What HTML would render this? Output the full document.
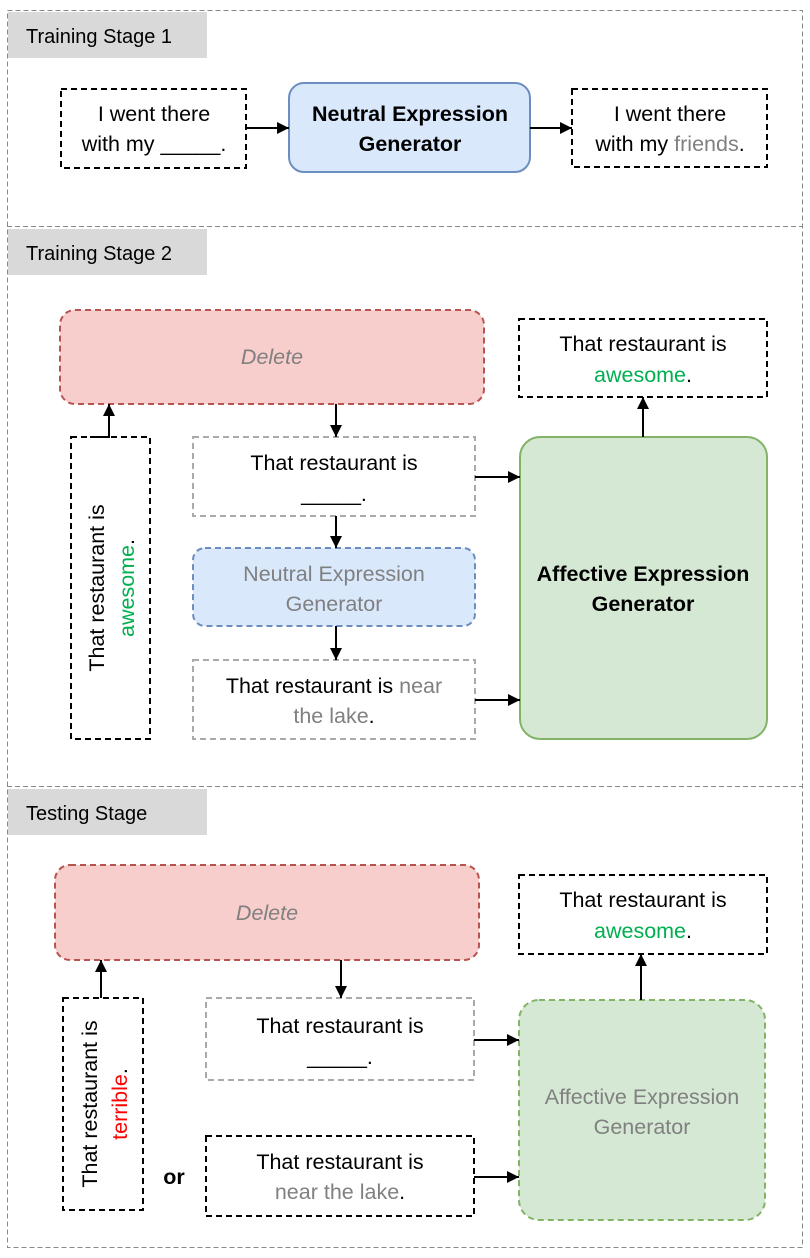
<!DOCTYPE html>
<html><head><meta charset="utf-8"><style>
html,body{margin:0;padding:0;background:#fff}
svg{display:block}
text{font-family:"Liberation Sans",sans-serif;font-size:21.5px}
.t{font-size:20px}
</style></head><body>
<svg width="810" height="1258" viewBox="0 0 810 1258" xmlns="http://www.w3.org/2000/svg">
<defs>
<marker id="a" markerWidth="14" markerHeight="14" refX="12" refY="6" orient="auto" markerUnits="userSpaceOnUse"><path d="M0,0 L12,6 L0,12 z" fill="#000"/></marker>
</defs>
<rect x="7.5" y="10.5" width="795" height="1237" fill="none" stroke="#888" stroke-dasharray="5,3"/>
<line x1="7" y1="226.5" x2="803" y2="226.5" stroke="#888" stroke-dasharray="5,3"/>
<line x1="7" y1="786.5" x2="803" y2="786.5" stroke="#888" stroke-dasharray="5,3"/>
<rect x="8" y="12" width="199" height="46" fill="#d9d9d9"/>
<rect x="8" y="229" width="199" height="46" fill="#d9d9d9"/>
<rect x="8" y="789" width="199" height="46" fill="#d9d9d9"/>
<text class="t" x="26" y="43">Training Stage 1</text>
<text class="t" x="26" y="260">Training Stage 2</text>
<text class="t" x="26" y="820">Testing Stage</text>

<g fill="none" stroke-width="2" stroke-dasharray="6,4">
<rect x="61" y="89" width="185" height="79" stroke="#000"/>
<rect x="572" y="89" width="195" height="78" stroke="#000"/>
<rect x="519" y="319" width="248" height="78" stroke="#000"/>
<rect x="71" y="437" width="79" height="302" stroke="#000"/>
<rect x="193" y="437" width="282" height="79" stroke="#aaa"/>
<rect x="193" y="660" width="282" height="79" stroke="#aaa"/>
<rect x="519" y="875" width="248" height="79" stroke="#000"/>
<rect x="63" y="998" width="80" height="212" stroke="#000"/>
<rect x="206" y="998" width="268" height="82" stroke="#aaa"/>
<rect x="206" y="1136" width="268" height="80" stroke="#000"/>
</g>
<rect x="289" y="83" width="241" height="89" rx="15" fill="#dae8fc" stroke="#6c8ebf" stroke-width="2"/>
<rect x="60" y="310" width="424" height="94" rx="15" fill="#f8cecc" stroke="#b85450" stroke-width="2" stroke-dasharray="6,4"/>
<rect x="193" y="548" width="282" height="78" rx="12" fill="#dae8fc" stroke="#6c8ebf" stroke-width="2" stroke-dasharray="6,4"/>
<rect x="520" y="437" width="247" height="302" rx="20" fill="#d5e8d4" stroke="#82b366" stroke-width="2"/>
<rect x="55" y="865" width="424" height="95" rx="15" fill="#f8cecc" stroke="#b85450" stroke-width="2" stroke-dasharray="6,4"/>
<rect x="519" y="1000" width="246" height="220" rx="20" fill="#d5e8d4" stroke="#82b366" stroke-width="2" stroke-dasharray="6,4"/>

<g stroke="#000" stroke-width="2" marker-end="url(#a)">
<line x1="246" y1="128" x2="289" y2="128"/>
<line x1="530" y1="128" x2="572" y2="128"/>
<line x1="336" y1="404" x2="336" y2="437"/>
<line x1="336" y1="516" x2="336" y2="548"/>
<line x1="336" y1="626" x2="336" y2="660"/>
<polyline fill="none" points="90,437 109,437 109,404"/>
<line x1="475" y1="477" x2="520" y2="477"/>
<line x1="475" y1="700" x2="520" y2="700"/>
<line x1="643" y1="437" x2="643" y2="397"/>
<line x1="341" y1="960" x2="341" y2="998"/>
<line x1="101" y1="998" x2="101" y2="960"/>
<line x1="474" y1="1040" x2="519" y2="1040"/>
<line x1="474" y1="1177" x2="519" y2="1177"/>
<line x1="641" y1="1000" x2="641" y2="954"/>
</g>

<g text-anchor="middle">
<text x="154" y="121">I went there</text>
<text x="154" y="151">with my _____.</text>
<text x="410" y="121" font-weight="bold">Neutral Expression</text>
<text x="410" y="151" font-weight="bold">Generator</text>
<text x="670" y="121">I went there</text>
<text x="670" y="151">with my <tspan fill="#808080">friends</tspan>.</text>

<text x="272" y="364" font-style="italic" fill="#808080">Delete</text>
<text x="643" y="351">That restaurant is</text>
<text x="643" y="382" fill="#00b050">awesome<tspan fill="#000">.</tspan></text>
<text x="334" y="470">That restaurant is</text>
<text x="334" y="501">_____.</text>
<text x="334" y="581" fill="#808080">Neutral Expression</text>
<text x="334" y="611" fill="#808080">Generator</text>
<text x="334" y="693">That restaurant is <tspan fill="#808080">near</tspan></text>
<text x="334" y="723" fill="#808080">the lake<tspan fill="#000">.</tspan></text>
<text x="643" y="581" font-weight="bold">Affective Expression</text>
<text x="643" y="611" font-weight="bold">Generator</text>
<g transform="translate(110,588) rotate(-90)">
<text x="0" y="-6">That restaurant is</text>
<text x="0" y="24" fill="#00b050">awesome<tspan fill="#000">.</tspan></text>
</g>

<text x="267" y="920" font-style="italic" fill="#808080">Delete</text>
<text x="643" y="907">That restaurant is</text>
<text x="643" y="938" fill="#00b050">awesome<tspan fill="#000">.</tspan></text>
<text x="340" y="1033">That restaurant is</text>
<text x="340" y="1064">_____.</text>
<text x="340" y="1169">That restaurant is</text>
<text x="340" y="1199" fill="#808080">near the lake<tspan fill="#000">.</tspan></text>
<text x="642" y="1104" fill="#808080">Affective Expression</text>
<text x="642" y="1134" fill="#808080">Generator</text>
<text x="174" y="1184" font-weight="bold">or</text>
<g transform="translate(103,1104) rotate(-90)">
<text x="0" y="-6">That restaurant is</text>
<text x="0" y="24" fill="#ff0000">terrible<tspan fill="#000">.</tspan></text>
</g>
</g>
</svg>
</body></html>
